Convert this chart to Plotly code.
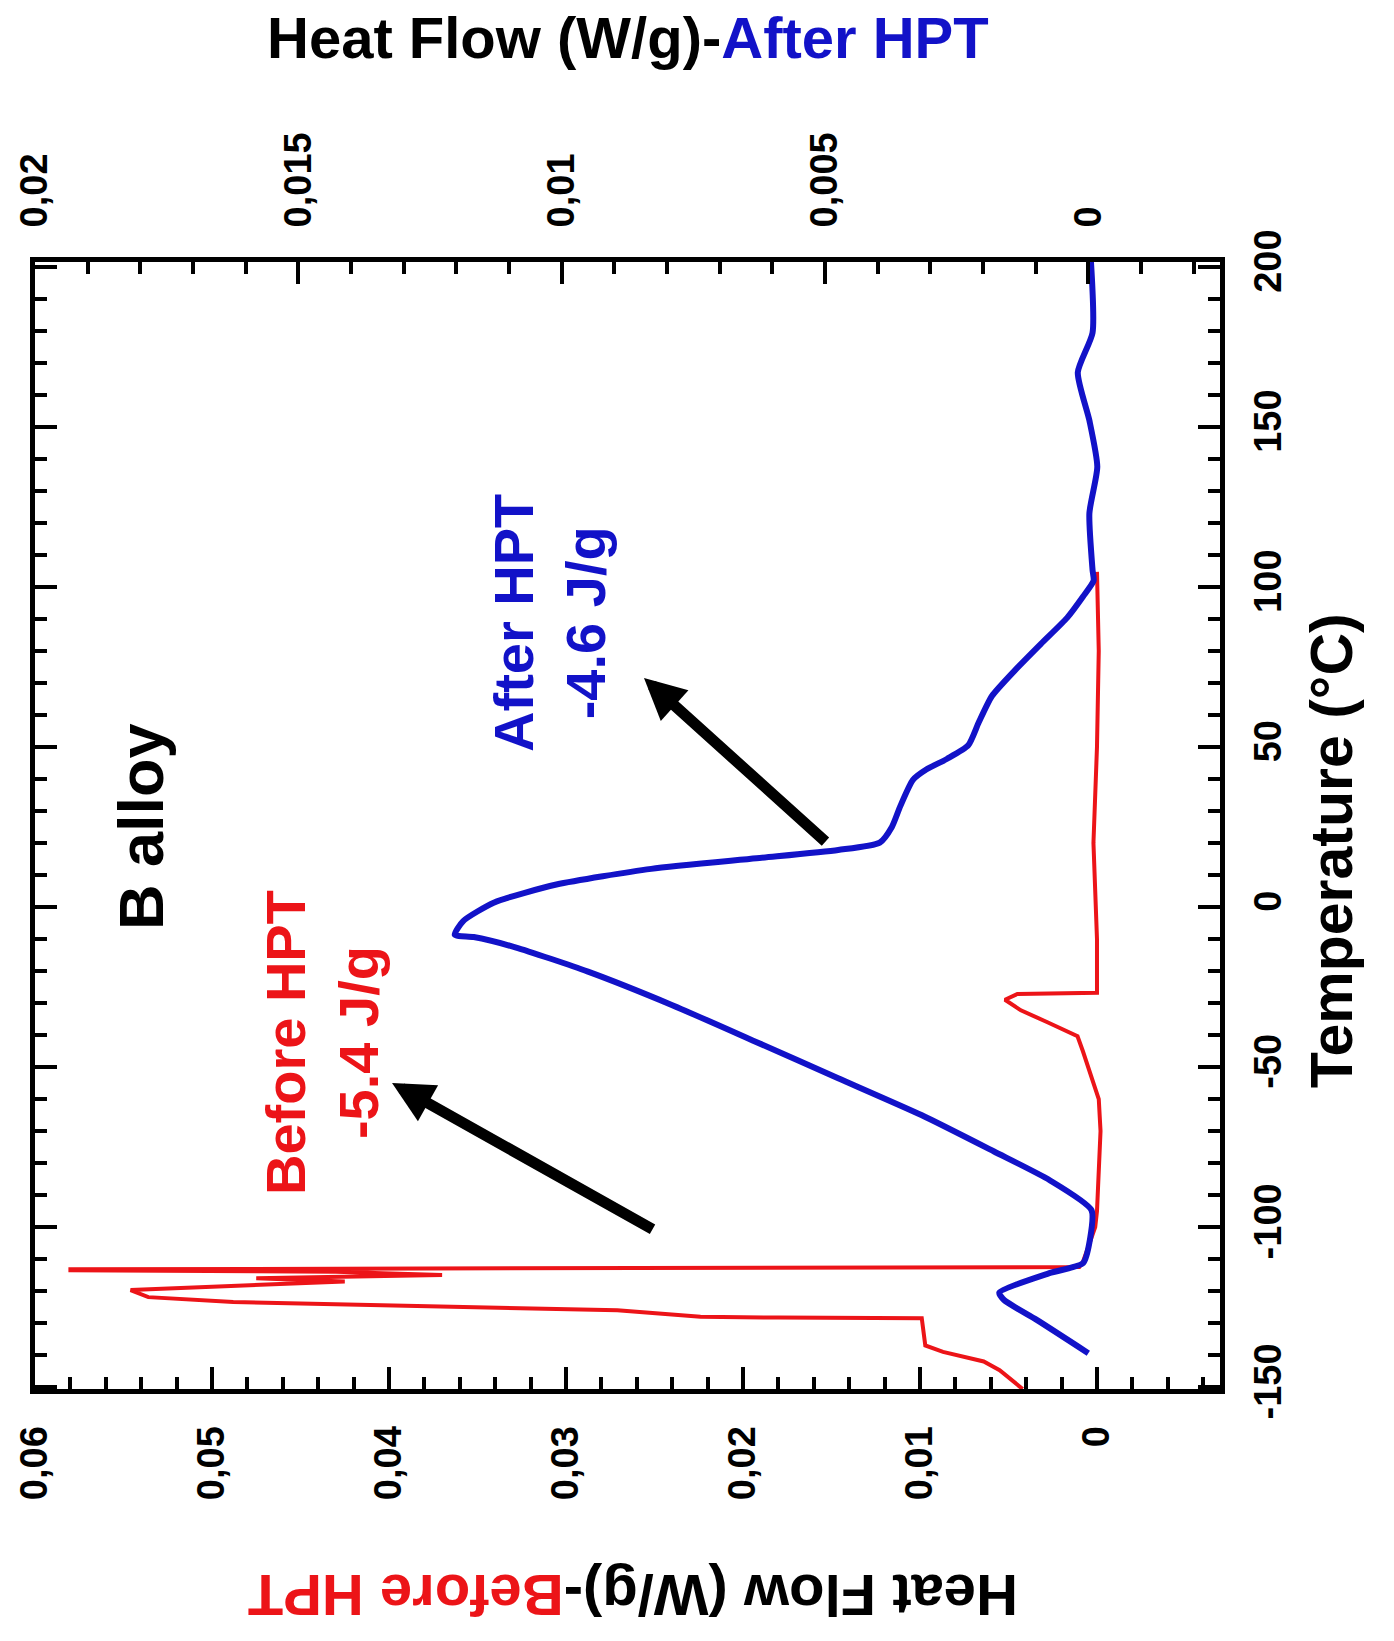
import plotly.graph_objects as go

# ---------------- data (original orientation: temperature vs heat flow) ----------------
# After HPT (blue, top axis)
after_T = [-139.4, -129, -122.8, -120.5, -114.4, -111.3, -104, -94.7, -85.3, -76.4, -65, -53.5,
           -42, -30.6, -20.2, -12.6, -9.4, -8.7, -4.4, 1.4, 7, 11.9, 15.2, 17.8, 20.1, 25, 31.5,
           39.7, 43, 46.3, 50.5, 57.7, 65.9, 74, 82.2, 90.4, 97, 101.9, 105.3, 123, 137.5, 152,
           167, 179.4, 201.5]
after_hf = [0.0, 0.00098, 0.00160, 0.00169, 0.00074, 0.0001, -0.00003, -0.00006, 0.00074, 0.00179,
            0.00317, 0.00475, 0.00633, 0.00791, 0.0095, 0.01088, 0.01167, 0.01203, 0.01187, 0.01128,
            0.0101, 0.0083, 0.0063, 0.00475, 0.00396, 0.00373, 0.00357, 0.00333, 0.00307, 0.00268,
            0.00228, 0.00208, 0.00183, 0.00139, 0.0009, 0.0004, 0.0001, -0.0001, -0.00008, -0.00002,
            -0.00017, -0.00002, 0.0002, -0.00008, -0.00005]

# Before HPT (red, bottom axis)
before_T = [-150.6, -147, -144.7, -142, -139, -137, -128.5, -128.3, -128, -126, -123.4, -121.9,
            -119.7, -117, -116, -115, -114, -113.5, -113.2, -112.5, -111, -100, -95, -70, -60,
            -45, -40.4, -36, -32.3, -29, -27.2, -26.8, -10, 20, 50, 80, 104.7]
before_hf = [0.0042, 0.005, 0.0055, 0.0064, 0.0087, 0.0097, 0.0099, 0.018, 0.0224, 0.0271, 0.0488,
             0.0536, 0.0546, 0.0425, 0.0475, 0.037, 0.043, 0.058, 0.058, 0.001, 0.0008, 0.0001,
             0.0, -0.0002, -0.0001, 0.0008, 0.0011, 0.0028, 0.0043, 0.0052, 0.0045, 0.0, 0.0,
             0.0002, 0.0, -0.0001, 0.0]

temp_ticks = [-150, -100, -50, 0, 50, 100, 150, 200]
temp_labels = ["-150", "-100", "-50", "0", "50", "100", "150", "200"]
before_ticks = [0, 0.01, 0.02, 0.03, 0.04, 0.05, 0.06]
before_labels = ["0", "0,01", "0,02", "0,03", "0,04", "0,05", "0,06"]
after_ticks = [0, 0.005, 0.01, 0.015, 0.02]
after_labels = ["0", "0,005", "0,01", "0,015", "0,02"]

RED = "rgb(236,20,24)"
BLUE = "rgb(18,18,200)"
FONT = "Liberation Sans"

fig = go.Figure()
fig.add_trace(go.Scatter(x=before_hf, y=before_T, xaxis="x", yaxis="y", mode="lines",
                         line=dict(color=RED, width=4), showlegend=False))
fig.add_trace(go.Scatter(x=after_hf, y=after_T, xaxis="x2", yaxis="y", mode="lines",
                         line=dict(color=BLUE, width=6, shape="spline", smoothing=0.6), showlegend=False))

axis_common = dict(showgrid=False, zeroline=False, showline=True, linewidth=5, linecolor="black",
                   ticks="inside", ticklen=22, tickwidth=4, tickcolor="black",
                   tickangle=-90, tickfont=dict(family=FONT, size=38, color="black", weight="bold"))

fig.update_layout(
    width=1394, height=1641,
    margin=dict(l=35, r=174, t=262, b=252),
    paper_bgcolor="white", plot_bgcolor="white",
    font=dict(family=FONT),
    xaxis=dict(range=[0.06, -0.00695], tickvals=before_ticks, ticktext=before_labels,
               minor=dict(dtick=0.002, tick0=0, ticks="inside", ticklen=12, tickwidth=4, tickcolor="black"),
               ticklabelstandoff=17, **axis_common),
    xaxis2=dict(range=[0.02, -0.0025], tickvals=after_ticks, ticktext=after_labels,
                overlaying="x", side="top", anchor="y",
                minor=dict(dtick=0.001, tick0=0, ticks="inside", ticklen=12, tickwidth=4, tickcolor="black"),
                ticklabelstandoff=22, **axis_common),
    yaxis=dict(range=[-150.6, 201.5], tickvals=temp_ticks, ticktext=temp_labels, side="right",
               mirror="ticks",
               minor=dict(dtick=10, tick0=0, ticks="inside", ticklen=12, tickwidth=4, tickcolor="black"),
               ticklabelstandoff=10, **axis_common),
)

bold = lambda s: f"<b>{s}</b>"
ann = []
ann.append(dict(text=bold(f"Heat Flow (W/g)-<span style='color:{BLUE}'>After HPT</span>"),
                x=0.5004, y=1.199, xref="paper", yref="paper", showarrow=False,
                font=dict(family=FONT, size=58, color="black"), xanchor="center", yanchor="middle"))
ann.append(dict(text=bold(f"Heat Flow (W/g)-<span style='color:{RED}'>Before HPT</span>"),
                x=0.5046, y=-0.1837, xref="paper", yref="paper", showarrow=False, textangle=180,
                font=dict(family=FONT, size=58, color="black"), xanchor="center", yanchor="middle"))
ann.append(dict(text=bold("Temperature (°C)"), x=1.0945, y=0.478, xref="paper", yref="paper",
                showarrow=False, textangle=-90, font=dict(family=FONT, size=59, color="black"),
                xanchor="center", yanchor="middle"))
ann.append(dict(text=bold("B alloy"), x=0.0895, y=0.4987, xref="paper", yref="paper",
                showarrow=False, textangle=-90, font=dict(family=FONT, size=63, color="black"),
                xanchor="center", yanchor="middle"))
ann.append(dict(text=bold("Before HPT<br>-5.4 J/g"), x=0.2422, y=0.307, xref="paper", yref="paper",
                showarrow=False, textangle=-90, font=dict(family=FONT, size=56, color=RED),
                xanchor="center", yanchor="middle"))
ann.append(dict(text=bold("After HPT<br>-4.6 J/g"), x=0.434, y=0.68, xref="paper", yref="paper",
                showarrow=False, textangle=-90, font=dict(family=FONT, size=56, color=BLUE),
                xanchor="center", yanchor="middle"))
# arrows
ann.append(dict(text="", x=0.3013, y=0.2715, xref="paper", yref="paper", showarrow=True,
                ax=262, ay=147, axref="pixel", ayref="pixel", arrowhead=2, arrowsize=0.75,
                arrowwidth=11, arrowcolor="black"))
ann.append(dict(text="", x=0.5139, y=0.6309, xref="paper", yref="paper", showarrow=True,
                ax=183, ay=165, axref="pixel", ayref="pixel", arrowhead=2, arrowsize=0.75,
                arrowwidth=11, arrowcolor="black"))
fig.update_layout(annotations=ann)

fig.write_html("out.html")
